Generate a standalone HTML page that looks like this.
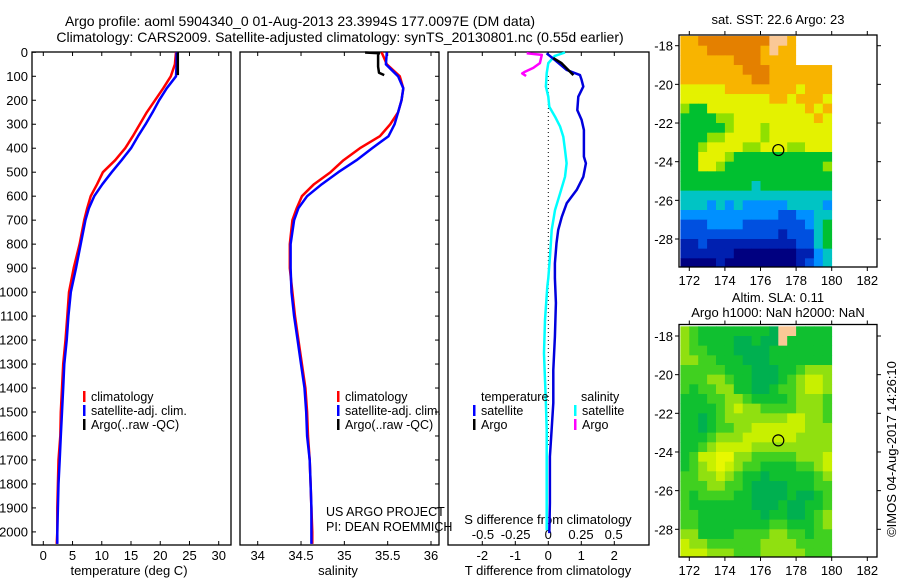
<!DOCTYPE html>
<html><head><meta charset="utf-8">
<style>
html,body{margin:0;padding:0;background:#fff;}
svg{display:block;font-family:"Liberation Sans",sans-serif;}
text{fill:#000;}
</style></head>
<body>
<svg id="fig" width="900" height="580" viewBox="0 0 900 580" xmlns="http://www.w3.org/2000/svg">
<text x="300" y="26" font-size="14" text-anchor="middle">Argo profile: aoml 5904340_0 01-Aug-2013 23.3994S 177.0097E (DM data)</text>
<text x="340" y="42" font-size="14" text-anchor="middle">Climatology: CARS2009. Satellite-adjusted climatology: synTS_20130801.nc (0.55d earlier)</text>
<g id="g1"></g>
<g id="g2"></g>
<g id="g3"></g>
<g id="m1"></g>
<g id="m2"></g>
<text x="778" y="24" font-size="13" text-anchor="middle">sat. SST: 22.6 Argo: 23</text>
<text x="778" y="302" font-size="13" text-anchor="middle">Altim. SLA: 0.11</text>
<text x="778" y="317" font-size="13" text-anchor="middle">Argo h1000: NaN h2000: NaN</text>
<text transform="translate(896,449) rotate(-90)" font-size="13" text-anchor="middle">©IMOS 04-Aug-2017 14:26:10</text>
</svg>
<script>
// ---------- profile data ----------
const depths = [0,50,100,150,200,250,300,350,400,450,500,550,600,650,700,800,900,1000,1100,1200,1300,1400,1500,1600,1700,1800,1900,2000,2050];
const tClim = [22.7,22.5,21.8,20.5,19.1,17.7,16.5,15.3,14.0,12.3,10.2,9.2,8.1,7.5,7.0,6.2,5.2,4.4,4.1,3.8,3.4,3.2,3.0,2.9,2.6,2.5,2.4,2.4,2.3];
const tSat = [22.8,22.8,22.7,21.1,19.8,18.7,17.5,16.2,15.0,13.4,11.7,10.1,8.7,7.8,7.2,6.4,5.6,4.7,4.3,4.0,3.6,3.4,3.2,3.0,2.8,2.6,2.5,2.4,2.4];
const sClim = [35.43,35.49,35.64,35.68,35.66,35.62,35.53,35.41,35.18,34.99,34.84,34.65,34.51,34.45,34.40,34.37,34.37,34.40,34.43,34.47,34.51,34.55,34.57,34.58,34.60,34.61,34.62,34.63,34.63];
const sSat = [35.49,35.48,35.62,35.68,35.66,35.62,35.58,35.51,35.32,35.14,34.93,34.74,34.57,34.47,34.42,34.38,34.38,34.39,34.42,34.46,34.50,34.54,34.56,34.57,34.60,34.61,34.62,34.62,34.62];
const argoDepths = [1,4,10,30,60,85,95];
const tArgo = [23.0,23.0,23.0,23.0,23.0,23.0,23.0];
const sArgo = [35.24,35.40,35.39,35.39,35.39,35.40,35.46];
const dtDepths = [4,32,74,95,115,143,185,241,282,324,435,463,519,574,629,686,741,796,880,942,1045,1186,1325,1463,1576,1686,1880,2005];
const dtSat = [-0.05,0.2,0.56,0.96,1.01,1.06,0.91,0.88,1.01,1.08,1.08,1.14,1.06,0.86,0.56,0.41,0.30,0.25,0.20,0.20,0.23,0.20,0.15,0.15,0.10,0.05,0.05,0.03];
const dtArgoDepths = [24,45,95];
const dtArgo = [0.15,0.4,0.76];
const dsDepths = [1,15,45,87,143,185,227,268,310,352,407,463,519,588,658,741,852,942,977,1116,1255,1367,1463,1576,1743,1993];
const dsSat = [0.128,0.05,0,-0.012,-0.018,0,0.008,0.051,0.09,0.115,0.128,0.14,0.128,0.09,0.051,0.026,0.013,0,-0.008,-0.025,-0.033,-0.025,-0.018,-0.012,-0.012,-0.012];
const dsArgoDepths = [4,11,45,65,81,88,99];
const dsArgo = [-0.165,-0.05,-0.064,-0.115,-0.178,-0.2,-0.17];
const depthTicks = [0,100,200,300,400,500,600,700,800,900,1000,1100,1200,1300,1400,1500,1600,1700,1800,1900,2000];
const tTicks = [0,5,10,15,20,25,30];
const sTicks = [34,34.5,35,35.5,36];
const dtTicks = [-2,-1,0,1,2];
const dsTicks = [-0.5,-0.25,0,0.25,0.5];
const dsTickLabels = ["-0.5","-0.25","0","0.25","0.5"];
// ---------- map data ----------
const lonTicks = [172,174,176,178,180,182];
const latTicks = [-18,-20,-22,-24,-26,-28];
const gridLon0 = 171.5, gridLat0 = -17.5, gridStep = 0.5;
const sstGrid = [
"8899999999LL8wwww","8889999998L88wwww","8888889998888wwww","88888889998888888",
"88888888998888888","77777888888887888","77777777778878887","65577777777777878",
"55556677777777787","55555677767777777","55566777767777777","55677776677766777",
"55777655555555555","55776555555555556","55555555555555555","55555555455555555",
"44444444444444444","44434343333344443","33333333333223344","22233332222222345",
"22222222222122245","11211111111112245","11111100000001134","00001000000001234"];
const slaGrid = [
"32111111110LL1111","32111100100L11111","32211100001111111","33221110001111111",
"22222111000112333","22233211000123443","21223311001223443","11122332111123332",
"11112343322223332","11012333333344332","11012233444444333","11123334444443333",
"11234444333333333","12445533222223334","12345432211112234","22334321101111123",
"22233221000011122","21222211000010012","21111111000100112","22111111101100123",
"22111111112211123","33111122223322122","43322222233332222","44433322233333222"];
const argoLon = 177.0, argoLat = -23.4;

const NS='http://www.w3.org/2000/svg';
function mk(parent,tag,attrs){const e=document.createElementNS(NS,tag);for(const k in attrs)e.setAttribute(k,attrs[k]);parent.appendChild(e);return e;}
const yD = d => 52.3 + d*0.2398;
const yTop=52, yBot=545;

function frame(g,x0,x1,y0,y1){
  const r=mk(g,'rect',{x:x0,y:y0,width:x1-x0,height:y1-y0,fill:'none',stroke:'#000','stroke-width':1.3});
  
  
}
function line(g,xs,ys,color,w,name){
  const pts=xs.map((x,i)=>x.toFixed(1)+','+ys[i].toFixed(1)).join(' ');
  const p=mk(g,'polyline',{points:pts,fill:'none',stroke:color,'stroke-width':w,'stroke-linejoin':'round'});
  
  
}
function txt(g,x,y,s,size,anchor,name){
  const t=mk(g,'text',{x:x,y:y,'font-size':size,'text-anchor':anchor||'start'});
  t.textContent=s;
  
  
  return t;
}
function legend(g,x,y,color,label){
  const r=mk(g,'rect',{x:x,y:y-10,width:2.5,height:11,fill:color});
  
  
  txt(g,x+8,y,label,12.5,'start','legend-entry');
}

// Panel 1 temperature
const g1=document.getElementById('g1');
const xT = t => 43.3 + t*5.847;
frame(g1,32,231,yTop,yBot);
depthTicks.forEach(d=>{
  const l=mk(g1,'line',{x1:32,x2:36,y1:yD(d),y2:yD(d),stroke:'#000'});
  
  
  txt(g1,28,yD(d)+4.5,String(d),13,'end','depth-tick-label');
});
tTicks.forEach(t=>{
  const a=mk(g1,'line',{x1:xT(t),x2:xT(t),y1:yTop,y2:yTop+4,stroke:'#000'});
  
  
  const b=mk(g1,'line',{x1:xT(t),x2:xT(t),y1:yBot,y2:yBot-4,stroke:'#000'});
  
  
  txt(g1,xT(t),yBot+15,String(t),13,'middle','temp-tick-label');
});
txt(g1,129,575,'temperature (deg C)',13,'middle','x-axis-title-temperature');
line(g1,tClim.map(xT),depths.map(yD),'#ff0000',2.5,'temperature-climatology-line');
line(g1,tSat.map(xT),depths.map(yD),'#0000ff',2.5,'temperature-satellite-line');
line(g1,tArgo.map(xT),argoDepths.map(yD),'#000000',2.5,'temperature-argo-line');
legend(g1,83,401,'#ff0000','climatology');
legend(g1,83,415,'#0000ff','satellite-adj. clim.');
legend(g1,83,429,'#000000','Argo(..raw -QC)');

// Panel 2 salinity
const g2=document.getElementById('g2');
const xS = s => 257.7 + (s-34)*86.65;
frame(g2,240,439,yTop,yBot);
depthTicks.forEach(d=>{
  const l=mk(g2,'line',{x1:439,x2:435,y1:yD(d),y2:yD(d),stroke:'#000'});
  
  
});
sTicks.forEach(s=>{
  const a=mk(g2,'line',{x1:xS(s),x2:xS(s),y1:yTop,y2:yTop+4,stroke:'#000'});
  
  
  const b=mk(g2,'line',{x1:xS(s),x2:xS(s),y1:yBot,y2:yBot-4,stroke:'#000'});
  
  
  txt(g2,xS(s),yBot+15,String(s),13,'middle','salinity-tick-label');
});
txt(g2,338,575,'salinity',13,'middle','x-axis-title-salinity');
line(g2,sClim.map(xS),depths.map(yD),'#ff0000',2.5,'salinity-climatology-line');
line(g2,sSat.map(xS),depths.map(yD),'#0000ff',2.5,'salinity-satellite-line');
line(g2,sArgo.map(xS),argoDepths.map(yD),'#000000',2.5,'salinity-argo-line');
legend(g2,337,401,'#ff0000','climatology');
legend(g2,337,415,'#0000ff','satellite-adj. clim.');
legend(g2,337,429,'#000000','Argo(..raw -QC)');
txt(g2,326,516,'US ARGO PROJECT',12.5,'start','credit-project');
txt(g2,326,531,'PI: DEAN ROEMMICH',12.5,'start','credit-pi');

// Panel 3 differences
const g3=document.getElementById('g3');
const xDT = v => 548.3 + v*33;
const xDS = v => 548.3 + v*130.7;
frame(g3,448,649,yTop,yBot);
dtTicks.forEach(v=>{
  const a=mk(g3,'line',{x1:xDT(v),x2:xDT(v),y1:yTop,y2:yTop+4,stroke:'#000'});
  
  
  const b=mk(g3,'line',{x1:xDT(v),x2:xDT(v),y1:yBot,y2:yBot-4,stroke:'#000'});
  
  
  txt(g3,xDT(v),yBot+15,String(v),13,'middle','tdiff-tick-label');
});
dsTicks.forEach((v,i)=>{
  txt(g3,xDS(v),539,dsTickLabels[i],13,'middle','sdiff-tick-label');
});
txt(g3,548,524,'S difference from climatology',13,'middle','sdiff-axis-title');
txt(g3,548,575,'T difference from climatology',13,'middle','tdiff-axis-title');
const zl=mk(g3,'line',{x1:xDT(0),x2:xDT(0),y1:76,y2:447,stroke:'#000','stroke-dasharray':'1,3'});


line(g3,dsSat.map(xDS),dsDepths.map(yD),'#00ffff',2.5,'salinity-diff-satellite-line');
line(g3,dsArgo.map(xDS),dsArgoDepths.map(yD),'#ff00ff',2.5,'salinity-diff-argo-line');
line(g3,dtSat.map(xDT),dtDepths.map(yD),'#0000dd',2.5,'temperature-diff-satellite-line');
line(g3,dtArgo.map(xDT),dtArgoDepths.map(yD),'#000000',2.5,'temperature-diff-argo-line');
txt(g3,481,401,'temperature',12.5,'start','legend-heading-temperature');
legend(g3,473,415,'#0000ff','satellite');
legend(g3,473,429,'#000000','Argo');
txt(g3,581,401,'salinity',12.5,'start','legend-heading-salinity');
legend(g3,574,415,'#00ffff','satellite');
legend(g3,574,429,'#ff00ff','Argo');

// Maps
const sstColors={'0':'#000080','1':'#0020b0','2':'#0050e0','3':'#0090ff','4':'#00c4c4','5':'#00c030','6':'#90e000','7':'#e4f200','8':'#f8b400','9':'#e48000','L':'#fac896','w':'#ffffff'};
const slaColors={'0':'#00b050','1':'#10c030','2':'#40d020','3':'#90e010','4':'#c8f000','5':'#e8f800','L':'#fac896','w':'#ffffff'};
function drawMap(id,grid,colors,y0,y1,lat18y){
  const g=document.getElementById(id);
  const x0=679,x1=877;
  const xL = lon => 689.3 + (lon-172)*17.8;
  const yL = lat => lat18y + (-lat-18)*19.33;
  grid.forEach((row,r)=>{
    for(let c=0;c<row.length;c++){
      const lon=gridLon0+c*gridStep, lat=gridLat0-r*gridStep;
      const xa=xL(lon), xb=xL(lon+gridStep);
      const ya=Math.max(yL(lat),y0), yb=Math.min(yL(lat-gridStep),y1);
      const cell=mk(g,'rect',{x:xa.toFixed(2),y:ya.toFixed(2),width:(xb-xa+0.4).toFixed(2),height:(yb-ya+0.4).toFixed(2),fill:colors[row[c]]});
      
      
    }
  });
  frame(g,x0,x1,y0,y1);
  lonTicks.forEach(lon=>{
    const a=mk(g,'line',{x1:xL(lon),x2:xL(lon),y1:y0,y2:y0-4,stroke:'#000'});
    
    
    const b=mk(g,'line',{x1:xL(lon),x2:xL(lon),y1:y1,y2:y1+4,stroke:'#000'});
    
    
    txt(g,xL(lon),y1+18,String(lon),13,'middle','lon-tick-label');
  });
  latTicks.forEach(lat=>{
    const a=mk(g,'line',{x1:x0,x2:x0-4,y1:yL(lat),y2:yL(lat),stroke:'#000'});
    
    
    const b=mk(g,'line',{x1:x1,x2:x1+4,y1:yL(lat),y2:yL(lat),stroke:'#000'});
    
    
    txt(g,x0-6,yL(lat)+5,String(lat),13,'end','lat-tick-label');
  });
  const c=mk(g,'circle',{cx:xL(argoLon),cy:yL(argoLat),r:5.5,fill:'none',stroke:'#000','stroke-width':1.2});
  
  
}
drawMap('m1',sstGrid,sstColors,35,267,45.7);
drawMap('m2',slaGrid,slaColors,324.5,557,336);
</script>
</body></html>
